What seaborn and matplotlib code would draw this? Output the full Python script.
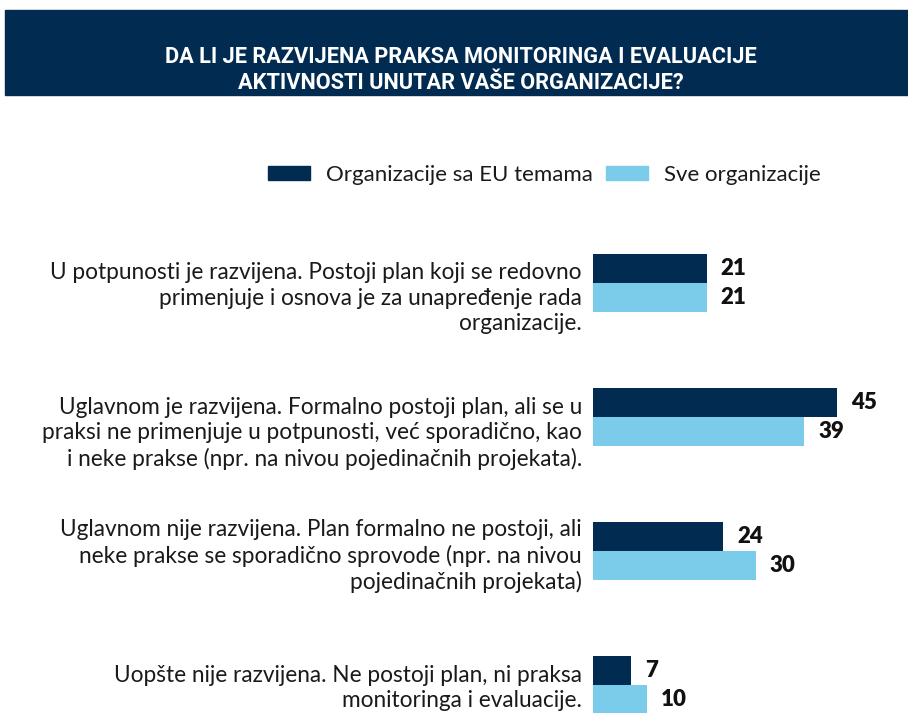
import matplotlib
matplotlib.use("Agg")
import matplotlib.pyplot as plt
import matplotlib.transforms as mtransforms
import seaborn as sns
import pandas as pd
from matplotlib.patches import Rectangle, Patch

categories = [
    "U potpunosti je razvijena. Postoji plan koji se redovno\nprimenjuje i osnova je za unapređenje rada\norganizacije.",
    "Uglavnom je razvijena. Formalno postoji plan, ali se u\npraksi ne primenjuje u potpunosti, već sporadično, kao\ni neke prakse (npr. na nivou pojedinačnih projekata).",
    "Uglavnom nije razvijena. Plan formalno ne postoji, ali\nneke prakse se sporadično sprovode (npr. na nivou\npojedinačnih projekata)",
    "Uopšte nije razvijena. Ne postoji plan, ni praksa\nmonitoringa i evaluacije.",
]
series_names = ["Organizacije sa EU temama", "Sve organizacije"]
eu_values = [21, 45, 24, 7]
all_values = [21, 39, 30, 10]
title = "DA LI JE RAZVIJENA PRAKSA MONITORINGA I EVALUACIJE\nAKTIVNOSTI UNUTAR VAŠE ORGANIZACIJE?"

DARK = "#022b52"
LIGHT = "#7accea"
palette = {series_names[0]: DARK, series_names[1]: LIGHT}

df = pd.DataFrame({
    "cat": categories * 2,
    "series": [series_names[0]] * 4 + [series_names[1]] * 4,
    "value": eu_values + all_values,
})

sns.set_style("white")
plt.rcParams["font.family"] = ["Lato", "DejaVu Sans"]

W, H = 908, 713
fig = plt.figure(figsize=(W / 100, H / 100), dpi=100)

# title banner
fig.add_artist(Rectangle((5 / W, 1 - 95 / H), 903 / W, 85 / H,
                         transform=fig.transFigure, color="#022b52", zorder=0))
fig.text(461 / W, 1 - 70 / H, title, ha="center", va="center", color="white",
         fontsize=15.7, fontweight="bold", family=["Roboto", "DejaVu Sans"],
         linespacing=1.2)

ax_top = 202.6
ax = fig.add_axes([593 / W, 0, 271 / W, (H - ax_top) / H])
sns.barplot(data=df, y="cat", x="value", hue="series", palette=palette,
            orient="h", width=0.44, ax=ax, legend=False, saturation=1,
            linewidth=0)
ax.set_xlim(0, 50)
ax.set_ylim(3.209, -0.6)
for c in ax.containers:
    ax.bar_label(c, padding=10, fontsize=16, fontweight="heavy", color="#111111")
ax.set_xlabel("")
ax.set_ylabel("")
ax.set_xticks([])
ax.tick_params(axis="y", length=0, pad=8)
label_shift_px = [-11, -12, -1, 1]
for lab, dy in zip(ax.get_yticklabels(), label_shift_px):
    lab.set_fontsize(16.3)
    lab.set_linespacing(1.25)
    lab.set_color("#1a1a1a")
    lab.set_transform(lab.get_transform() +
                      mtransforms.ScaledTranslation(0, dy / 100, fig.dpi_scale_trans))
for s in ax.spines.values():
    s.set_visible(False)

handles = [Patch(color=DARK), Patch(color=LIGHT)]
fig.legend(handles, series_names, loc="center", bbox_to_anchor=(544 / W, 1 - 175 / H),
           ncol=2, frameon=False, fontsize=16, handlelength=1.9, handleheight=0.55,
           columnspacing=0.6, handletextpad=0.7, labelcolor="#1a1a1a")

fig.savefig("out.png", dpi=100)
